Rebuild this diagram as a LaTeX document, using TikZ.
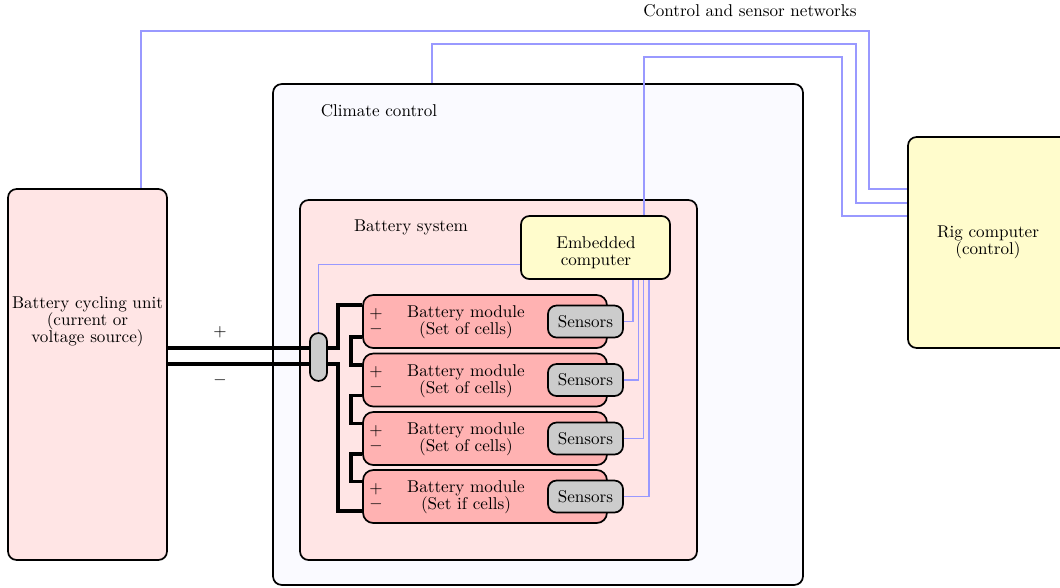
\documentclass[tikz,border=0pt]{standalone}
\usetikzlibrary{calc}
\begin{document}
\begin{tikzpicture}[x=0.585pt,y=-0.585pt,
        caja/.style={draw,line width=1pt,rounded corners=5pt,inner sep=0pt},
        red/.style={blue!40,line width=0.6pt},
        potencia/.style={line width=2pt},
        texto/.style={align=center,font=\fontsize{10}{10}\selectfont}]
        %colores
        \colorlet{rosa}{red!10}
        \colorlet{modulo}{red!30}
        \colorlet{lila}{blue!2}
        \colorlet{amarillo}{yellow!20}
        \colorlet{gris}{gray!40}
        \useasboundingbox (0,0) rectangle (1060,587);

        % Cajas grandes
        \node[caja,fill=lila,minimum width=310pt,minimum height=293pt] (clima) at (538,334.5) {};
        \node (climatext) at (379,111) {Climate control};
        \node[caja,fill=rosa,minimum width=232.2pt,minimum height=210.6pt] (bateria) at (498.5,380) {};
        \node (bateriatext) at (411,227) {Battery system};
        \node[caja,fill=rosa,minimum width=93pt,minimum height=217pt] (bcu) at (87.5,374.5) {};
        \node[texto] (bcutext) at (87.5,322) {Battery cycling unit\\(current or\\voltage source)};
        \node[caja,fill=amarillo,minimum width=93.6pt,minimum height=123.4pt,texto] (rig) at (988,242.5) {Rig computer\\(control)};
        \node[caja,fill=amarillo,minimum width=87.2pt,minimum height=36.9pt] (emb) at (595.5,247.5) {};
        \node[texto] (embtext) at (596,253) {Embedded\\computer};

        % Modulos y sensores
        \foreach \i/\y/\sub in {1/321.5/Set of cells,2/380/Set of cells,3/438.5/Set of cells,4/496.5/Set if cells}{
            \node[caja,fill=modulo,rounded corners=6pt,minimum width=142.7pt,minimum height=31pt] (mod\i) at (485,\y) {};
            \node[texto] (modtext\i) at (466,\y+1) {Battery module\\(\sub)};
            \node[inner sep=0pt] (mas\i) at (376,\y-7.5) {$+$};
            \node[inner sep=0pt] (menos\i) at (376,\y+7.5) {$-$};
            \node[caja,fill=gris,minimum width=43.9pt,minimum height=18.7pt] (sens\i) at (585.5,\y) {Sensors};
        }

        % Cables de potencia
        \draw[potencia] ($(bcu.east)+(0,-26.5)$) -- (338,348) |- ($(mod1.west)+(0,-16.5)$);
        \draw[potencia] ($(bcu.east)+(0,-10.5)$) -- (338,364) |- ($(mod4.west)+(0,14.5)$);
        \foreach \i/\j in {1/2,2/3,3/4}
            \draw[potencia] ($(mod\i.west)+(0,15.5)$) -- ++(-11,0) |- ($(mod\j.west)+(0,-15)$);
        \node (mas) at (220,332) {$+$};
        \node (menos) at (220,380) {$-$};
        \node[draw,line width=1pt,fill=gris,rounded corners=4.9pt,minimum width=10pt,minimum height=28pt,inner sep=0pt] (sw) at (318.5,357) {};

        % Redes de control y sensores
        \draw[red] (sw.north) |- ($(emb.south west)+(0,-15)$);
        \foreach \i/\dx in {1/37.5,2/42.8,3/48.1,4/53.5}
            \draw[red] (sens\i.east) -| ($(emb.south)+(\dx,0)$);
        \draw[red] ($(bcu.north)+(53.5,0)$) |- (869,31) |- ($(rig.west)+(0,-53.5)$);
        \draw[red] ($(clima.north)+(-106,0)$) |- (856,44) |- ($(rig.west)+(0,-39.5)$);
        \draw[red] ($(emb.north)+(48.5,0)$) |- (842,57) |- ($(rig.west)+(0,-26.5)$);
        \node (redtext) at (750,11) {Control and sensor networks};
    \end{tikzpicture}
\end{document}
